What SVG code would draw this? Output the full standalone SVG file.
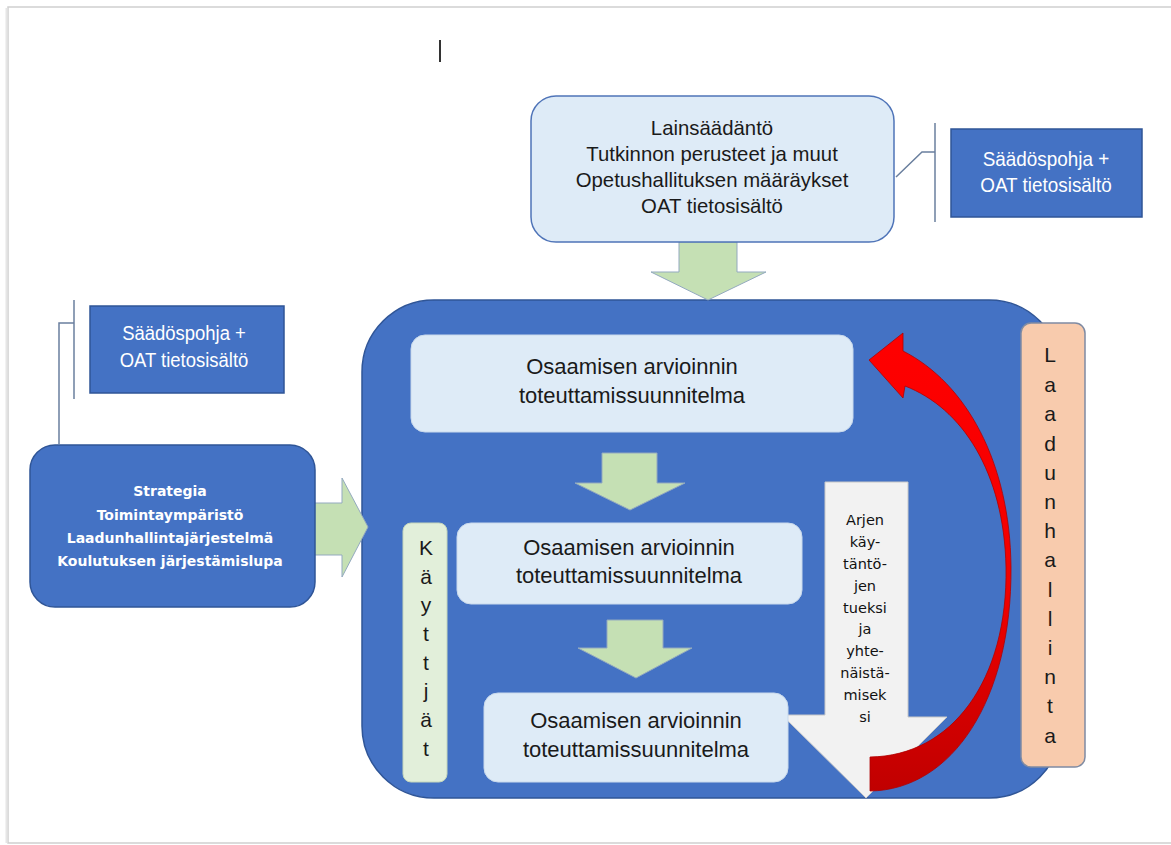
<svg xmlns="http://www.w3.org/2000/svg" width="1171" height="845" viewBox="0 0 1171 845">
  <defs>
    <style>
      .blue { fill: #4472c4; stroke: #2f5597; stroke-width: 1.5; }
      .lightbox { fill: #deebf7; stroke: #c9d9ec; stroke-width: 1; }
      .green { fill: #c5e0b4; stroke: #93a9bf; stroke-width: 1; }
      .bracket { fill: none; stroke: #6a7f9e; stroke-width: 1.5; }
      .t { font-family: "Liberation Sans", Arial, sans-serif; fill: #1a1a1a; text-anchor: middle; }
      .w { font-family: "Liberation Sans", Arial, sans-serif; fill: #ffffff; text-anchor: middle; }
      .g { font-family: "DejaVu Sans", Verdana, sans-serif; text-anchor: middle; }
    </style>
    <linearGradient id="redgrad" x1="0" y1="330" x2="0" y2="792" gradientUnits="userSpaceOnUse">
      <stop offset="0" stop-color="#ff0000"/>
      <stop offset="0.55" stop-color="#f20000"/>
      <stop offset="1" stop-color="#c00000"/>
    </linearGradient>
  </defs>

  <rect x="0" y="0" width="1171" height="845" fill="#ffffff"/>
  <!-- page edge -->
  <rect x="8" y="7" width="1175" height="836" fill="#ffffff" stroke="#cfcfcf" stroke-width="1.5"/>
  <line x1="6.5" y1="8" x2="6.5" y2="843" stroke="#e6e6e6" stroke-width="2"/>
  <line x1="440" y1="40" x2="440" y2="62" stroke="#333333" stroke-width="2"/>

  <!-- main container -->
  <g id="main-area">
    <rect class="blue" x="362" y="300" width="699" height="498" rx="72" ry="72"/>
  </g>

  <g id="connectors">
    <polygon class="green" points="679,242 737,242 737,272 766,272 708,300 651,272 679,272"/>
    <polygon class="green" points="313,503 342,503 342,478 368,527 342,577 342,555 313,555"/>
    <polygon class="green" points="602,453 657,453 657,483 685,483 630,510 575,483 602,483"/>
    <polygon class="green" points="607,620 663,620 663,648 692,648 636,678 578,648 607,648"/>
    <polyline class="bracket" points="935,123 935,222"/>
    <polyline class="bracket" points="935,152 922,152 896,177"/>
    <polyline class="bracket" points="74,300 74,399"/>
    <polyline class="bracket" points="74,323 59,323 59,444"/>
  </g>

  <g id="node-top">
    <rect x="531" y="96" width="363" height="146" rx="25" ry="25" fill="#deebf7" stroke="#4f74b8" stroke-width="1.5"/>
    <g transform="translate(712 0) scale(0.97 1)">
      <text class="t" x="0" y="135" font-size="21">Lainsäädäntö</text>
      <text class="t" x="0" y="161" font-size="21">Tutkinnon perusteet ja muut</text>
      <text class="t" x="0" y="187" font-size="21">Opetushallituksen määräykset</text>
      <text class="t" x="0" y="213" font-size="21">OAT tietosisältö</text>
    </g>
  </g>

  <g id="node-callout-right">
    <rect class="blue" x="951" y="129" width="191" height="88"/>
    <g transform="translate(1046 0) scale(0.9 1)">
      <text class="w" x="0" y="166" font-size="21">Säädöspohja +</text>
      <text class="w" x="0" y="192" font-size="21">OAT tietosisältö</text>
    </g>
  </g>

  <g id="node-callout-left">
    <rect class="blue" x="90" y="306" width="194" height="87"/>
    <g transform="translate(184 0) scale(0.88 1)">
      <text class="w" x="0" y="340" font-size="21">Säädöspohja +</text>
      <text class="w" x="0" y="367" font-size="21">OAT tietosisältö</text>
    </g>
  </g>

  <g id="node-left">
    <rect class="blue" x="30" y="445" width="285" height="162" rx="25" ry="25"/>
    <g class="g" fill="#ffffff" font-size="14" font-weight="bold">
      <text x="170" y="496">Strategia</text>
      <text x="170" y="520">Toimintaympäristö</text>
      <text x="170" y="543">Laadunhallintajärjestelmä</text>
      <text x="170" y="566">Koulutuksen järjestämislupa</text>
    </g>
  </g>

  <g id="node-plan-1">
    <rect class="lightbox" x="411" y="335" width="442" height="97" rx="14" ry="14"/>
    <text class="t" x="632" y="374" font-size="22">Osaamisen arvioinnin</text>
    <text class="t" x="632" y="403" font-size="22">toteuttamissuunnitelma</text>
  </g>

  <g id="node-plan-2">
    <rect class="lightbox" x="457" y="523" width="345" height="81" rx="14" ry="14"/>
    <text class="t" x="629" y="555" font-size="22">Osaamisen arvioinnin</text>
    <text class="t" x="629" y="583" font-size="22">toteuttamissuunnitelma</text>
  </g>

  <g id="node-arjen">
    <polygon points="825,482 908,482 908,717 947,717 866,798 782,715 825,715" fill="#f2f2f2" stroke="#c8c8c8" stroke-width="1"/>
    <g class="g" fill="#111111" font-size="14.5">
      <text x="865" y="525">Arjen</text>
      <text x="865" y="547">käy-</text>
      <text x="865" y="569">täntö-</text>
      <text x="865" y="591">jen</text>
      <text x="865" y="613">tueksi</text>
      <text x="865" y="634">ja</text>
      <text x="865" y="656">yhte-</text>
      <text x="865" y="678">näistä-</text>
      <text x="865" y="700">misek</text>
      <text x="865" y="722">si</text>
    </g>
  </g>

  <g id="node-plan-3">
    <rect class="lightbox" x="484" y="693" width="304" height="89" rx="14" ry="14"/>
    <text class="t" x="636" y="728" font-size="22">Osaamisen arvioinnin</text>
    <text class="t" x="636" y="757" font-size="22">toteuttamissuunnitelma</text>
  </g>

  <g id="node-kayttajat">
    <rect x="403" y="523" width="44" height="259" rx="8" ry="8" fill="#e2efda" stroke="#c5d6bb" stroke-width="1"/>
    <g class="t" font-size="21">
      <text x="426" y="555">K</text>
      <text x="426" y="584">ä</text>
      <text x="426" y="612">y</text>
      <text x="426" y="641">t</text>
      <text x="426" y="670">t</text>
      <text x="426" y="698">j</text>
      <text x="426" y="727">ä</text>
      <text x="426" y="756">t</text>
    </g>
  </g>

  <g id="feedback-arrow">
    <path d="M 870 791 C 952 790 1012 700 1011 567 C 1010 462 966 383 903 351 L 903 333 L 869 360 L 903 398 L 905 386 C 962 408 1004 472 1006 567 C 1008 680 952 756 870 757 Z" fill="url(#redgrad)" stroke="#b00000" stroke-width="0.8"/>
  </g>

  <g id="node-laadunhallinta">
    <rect x="1021" y="323" width="64" height="444" rx="10" ry="10" fill="#f8cbad" stroke="#7f8ba3" stroke-width="1.5"/>
    <g class="t" font-size="21">
      <text x="1050" y="362">L</text>
      <text x="1050" y="392">a</text>
      <text x="1050" y="421">a</text>
      <text x="1050" y="451">d</text>
      <text x="1050" y="480">u</text>
      <text x="1050" y="509">n</text>
      <text x="1050" y="538">h</text>
      <text x="1050" y="567">a</text>
      <text x="1050" y="597">l</text>
      <text x="1050" y="626">l</text>
      <text x="1050" y="655">i</text>
      <text x="1050" y="684">n</text>
      <text x="1050" y="713">t</text>
      <text x="1050" y="743">a</text>
    </g>
  </g>
</svg>
